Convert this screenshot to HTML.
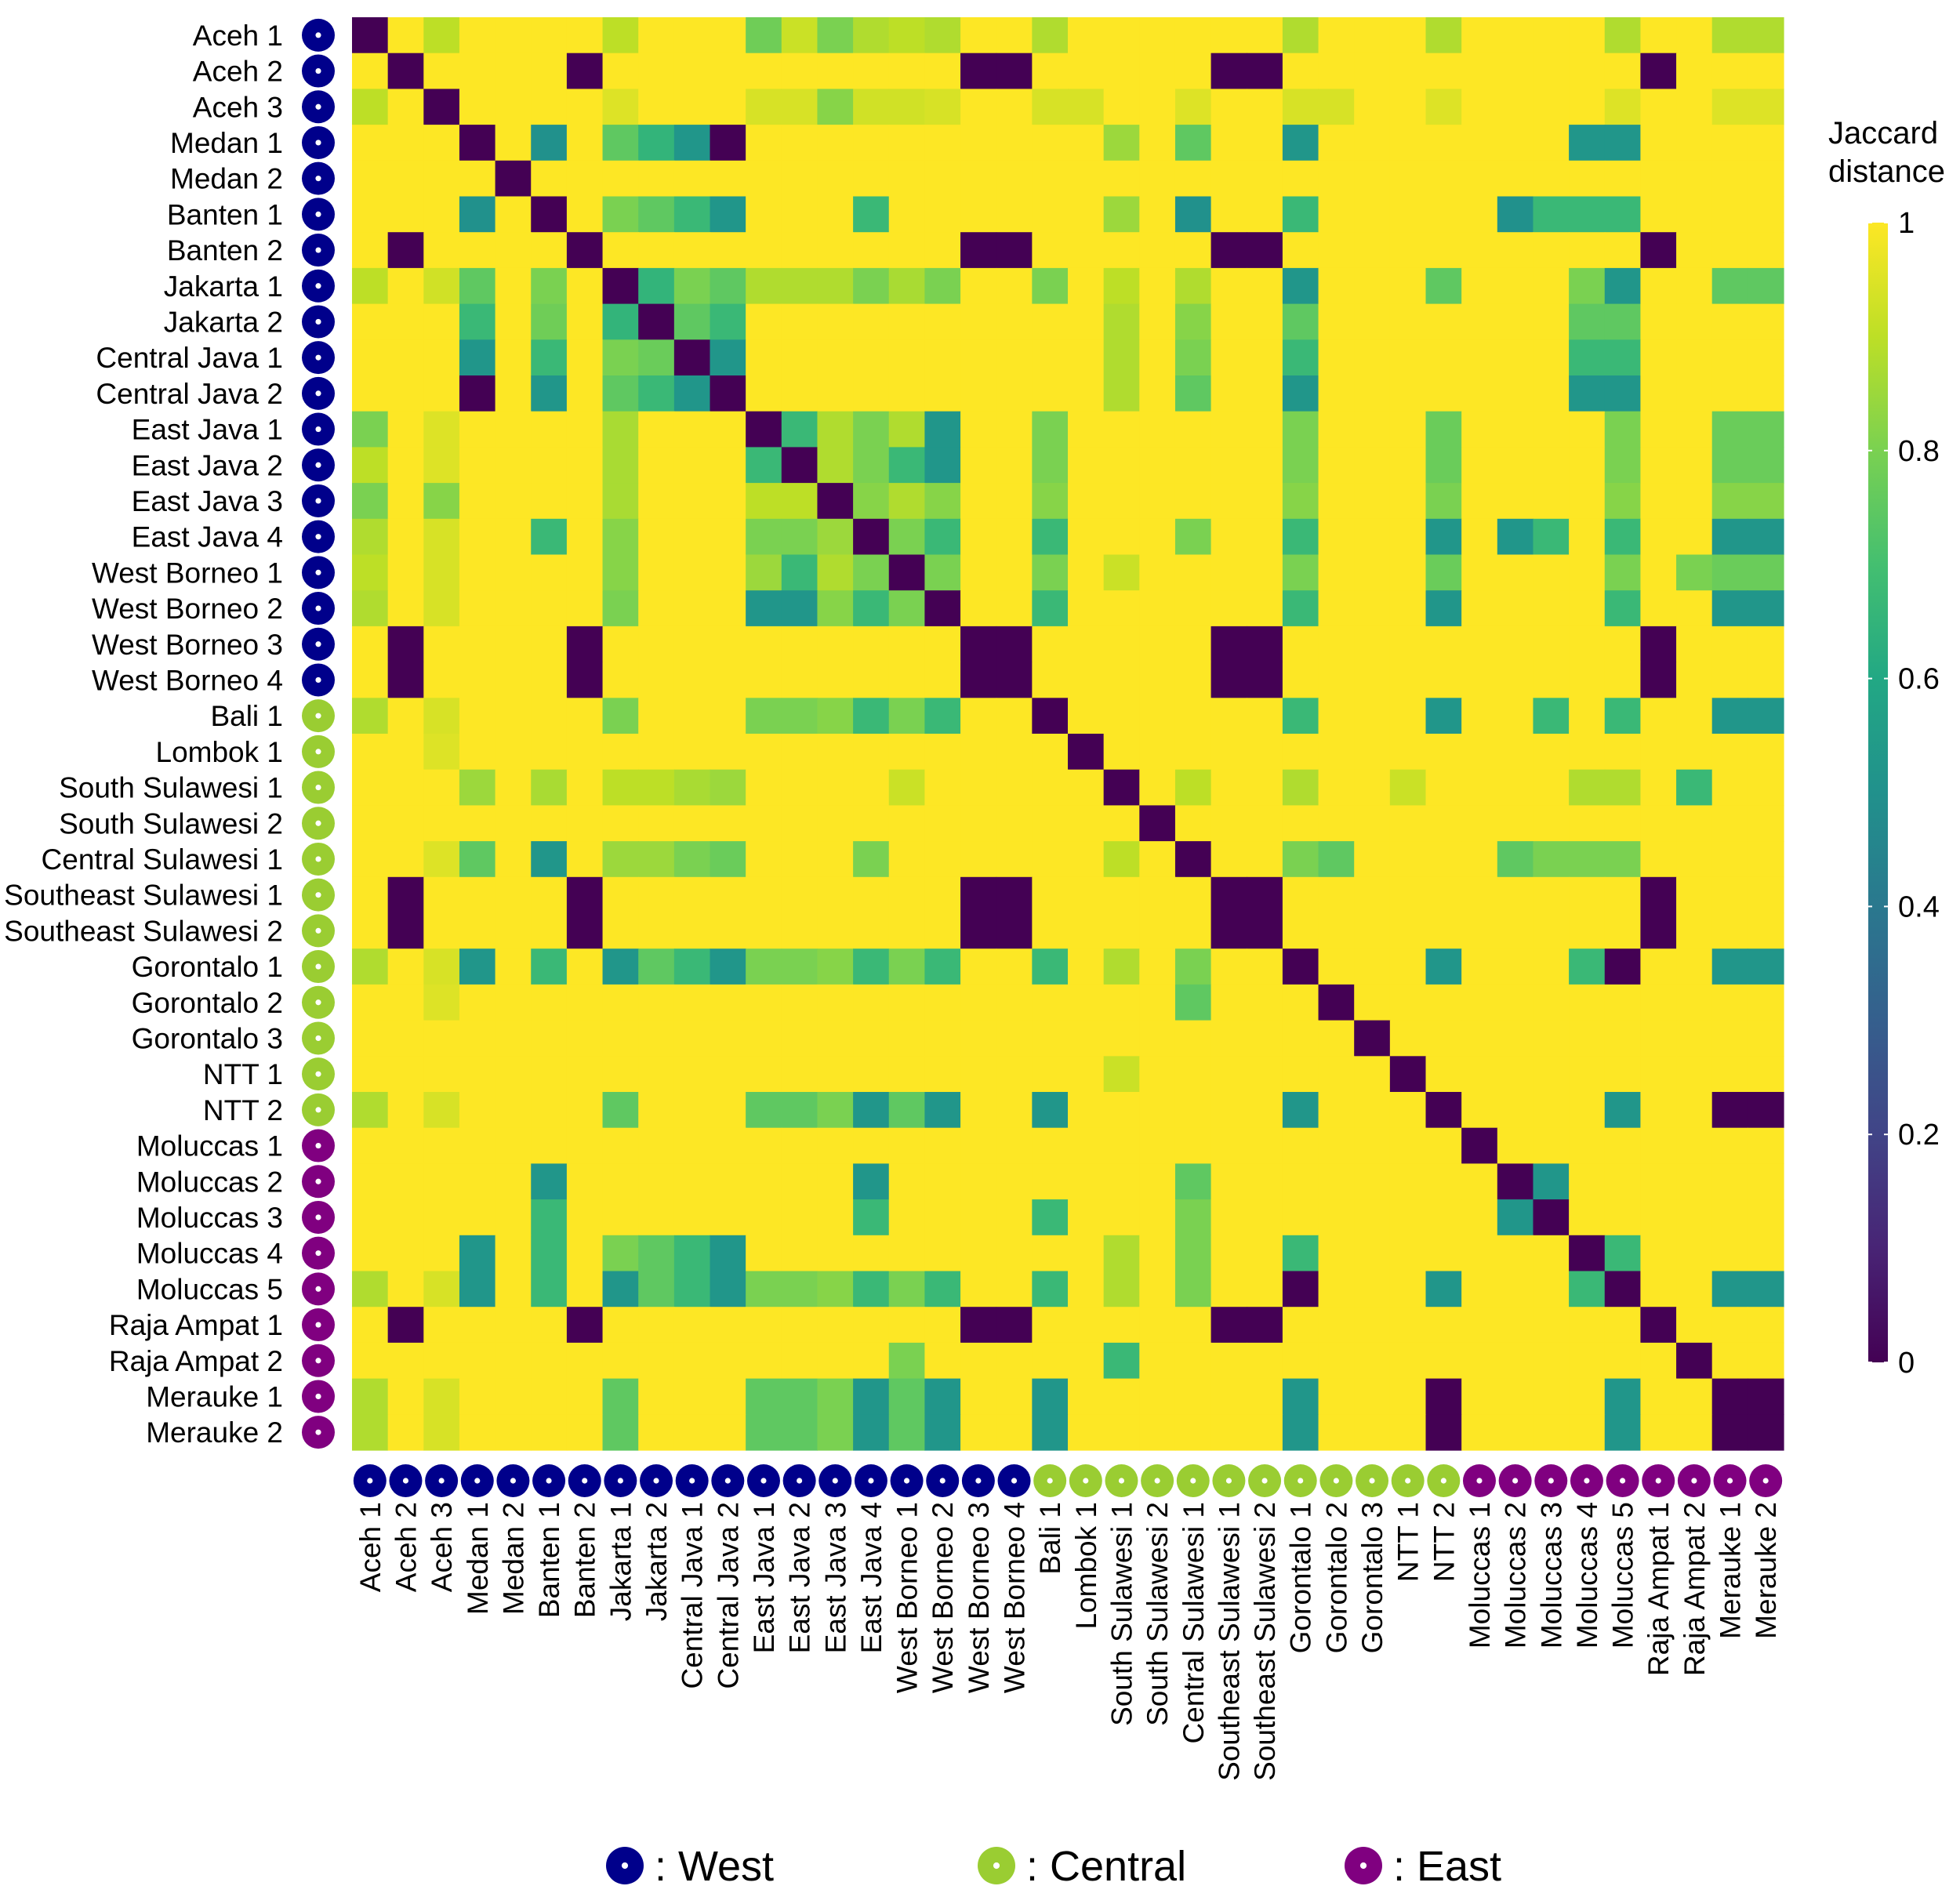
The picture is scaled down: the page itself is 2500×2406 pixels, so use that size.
<!DOCTYPE html>
<html><head><meta charset="utf-8"><style>
html,body{margin:0;padding:0;background:#fff;}
svg{display:block;font-family:"Liberation Sans",Arial,sans-serif;}
</style></head><body>
<svg id="chart" width="2500" height="2406" viewBox="0 0 2500 2406" xmlns="http://www.w3.org/2000/svg">
<g id="cells"></g>
<g id="rowlabels"></g>
<g id="collabels"></g>
<g id="colorbar"></g>
<g id="legend"></g>
</svg>
<script>
const sites = ["Aceh 1","Aceh 2","Aceh 3","Medan 1","Medan 2","Banten 1","Banten 2","Jakarta 1","Jakarta 2","Central Java 1","Central Java 2","East Java 1","East Java 2","East Java 3","East Java 4","West Borneo 1","West Borneo 2","West Borneo 3","West Borneo 4","Bali 1","Lombok 1","South Sulawesi 1","South Sulawesi 2","Central Sulawesi 1","Southeast Sulawesi 1","Southeast Sulawesi 2","Gorontalo 1","Gorontalo 2","Gorontalo 3","NTT 1","NTT 2","Moluccas 1","Moluccas 2","Moluccas 3","Moluccas 4","Moluccas 5","Raja Ampat 1","Raja Ampat 2","Merauke 1","Merauke 2"];
const regions = ["W","W","W","W","W","W","W","W","W","W","W","W","W","W","W","W","W","W","W","C","C","C","C","C","C","C","C","C","C","C","C","E","E","E","E","E","E","E","E","E"];
const baseValue = 1;
// [row, col, distance] for every cell differing from baseValue
const cellValues = [
[0,0,0],[0,2,0.9],[0,7,0.9],[0,11,0.78],[0,12,0.92],[0,13,0.8],[0,14,0.88],[0,15,0.9],[0,16,0.88],[0,19,0.88],[0,26,0.88],[0,30,0.88],[0,35,0.88],[0,38,0.88],[0,39,0.88],
[1,1,0],[1,6,0],[1,17,0],[1,18,0],[1,24,0],[1,25,0],[1,36,0],
[2,0,0.9],[2,2,0],[2,7,0.95],[2,11,0.94],[2,12,0.94],[2,13,0.82],[2,14,0.93],[2,15,0.93],[2,16,0.94],[2,19,0.94],[2,20,0.94],[2,23,0.95],[2,26,0.94],[2,27,0.94],[2,30,0.95],[2,35,0.95],[2,38,0.95],[2,39,0.95],
[3,3,0],[3,5,0.5],[3,7,0.75],[3,8,0.65],[3,9,0.52],[3,10,0],[3,21,0.85],[3,23,0.75],[3,26,0.52],[3,34,0.52],[3,35,0.52],
[4,4,0],
[5,3,0.5],[5,5,0],[5,7,0.8],[5,8,0.75],[5,9,0.67],[5,10,0.52],[5,14,0.67],[5,21,0.85],[5,23,0.5],[5,26,0.67],[5,32,0.5],[5,33,0.67],[5,34,0.67],[5,35,0.67],
[6,1,0],[6,6,0],[6,17,0],[6,18,0],[6,24,0],[6,25,0],[6,36,0],
[7,0,0.9],[7,2,0.93],[7,3,0.75],[7,5,0.8],[7,7,0],[7,8,0.65],[7,9,0.8],[7,10,0.75],[7,11,0.88],[7,12,0.88],[7,13,0.88],[7,14,0.8],[7,15,0.87],[7,16,0.8],[7,19,0.8],[7,21,0.9],[7,23,0.88],[7,26,0.52],[7,30,0.75],[7,34,0.8],[7,35,0.52],[7,38,0.75],[7,39,0.75],
[8,3,0.67],[8,5,0.78],[8,7,0.65],[8,8,0],[8,9,0.75],[8,10,0.67],[8,21,0.88],[8,23,0.82],[8,26,0.75],[8,34,0.75],[8,35,0.75],
[9,3,0.52],[9,5,0.67],[9,7,0.8],[9,8,0.77],[9,9,0],[9,10,0.52],[9,21,0.88],[9,23,0.8],[9,26,0.67],[9,34,0.67],[9,35,0.67],
[10,3,0],[10,5,0.52],[10,7,0.75],[10,8,0.67],[10,9,0.52],[10,10,0],[10,21,0.88],[10,23,0.75],[10,26,0.52],[10,34,0.52],[10,35,0.52],
[11,0,0.8],[11,2,0.95],[11,7,0.87],[11,11,0],[11,12,0.67],[11,13,0.88],[11,14,0.8],[11,15,0.88],[11,16,0.52],[11,19,0.8],[11,26,0.8],[11,30,0.77],[11,35,0.8],[11,38,0.77],[11,39,0.77],
[12,0,0.9],[12,2,0.95],[12,7,0.87],[12,11,0.67],[12,12,0],[12,13,0.88],[12,14,0.8],[12,15,0.67],[12,16,0.52],[12,19,0.8],[12,26,0.8],[12,30,0.77],[12,35,0.8],[12,38,0.77],[12,39,0.77],
[13,0,0.8],[13,2,0.82],[13,7,0.87],[13,11,0.9],[13,12,0.9],[13,13,0],[13,14,0.82],[13,15,0.88],[13,16,0.82],[13,19,0.82],[13,26,0.82],[13,30,0.8],[13,35,0.82],[13,38,0.82],[13,39,0.82],
[14,0,0.88],[14,2,0.94],[14,5,0.67],[14,7,0.82],[14,11,0.8],[14,12,0.8],[14,13,0.85],[14,14,0],[14,15,0.8],[14,16,0.67],[14,19,0.67],[14,23,0.8],[14,26,0.67],[14,30,0.52],[14,32,0.52],[14,33,0.67],[14,35,0.67],[14,38,0.52],[14,39,0.52],
[15,0,0.9],[15,2,0.94],[15,7,0.82],[15,11,0.85],[15,12,0.67],[15,13,0.88],[15,14,0.8],[15,15,0],[15,16,0.8],[15,19,0.8],[15,21,0.92],[15,26,0.8],[15,30,0.77],[15,35,0.8],[15,37,0.8],[15,38,0.77],[15,39,0.77],
[16,0,0.88],[16,2,0.94],[16,7,0.8],[16,11,0.52],[16,12,0.52],[16,13,0.82],[16,14,0.67],[16,15,0.8],[16,16,0],[16,19,0.67],[16,26,0.67],[16,30,0.52],[16,35,0.67],[16,38,0.52],[16,39,0.52],
[17,1,0],[17,6,0],[17,17,0],[17,18,0],[17,24,0],[17,25,0],[17,36,0],
[18,1,0],[18,6,0],[18,17,0],[18,18,0],[18,24,0],[18,25,0],[18,36,0],
[19,0,0.88],[19,2,0.94],[19,7,0.8],[19,11,0.8],[19,12,0.8],[19,13,0.82],[19,14,0.67],[19,15,0.8],[19,16,0.67],[19,19,0],[19,26,0.67],[19,30,0.52],[19,33,0.67],[19,35,0.67],[19,38,0.52],[19,39,0.52],
[20,2,0.95],[20,20,0],
[21,3,0.85],[21,5,0.87],[21,7,0.9],[21,8,0.9],[21,9,0.87],[21,10,0.85],[21,15,0.92],[21,21,0],[21,23,0.9],[21,26,0.88],[21,29,0.92],[21,34,0.88],[21,35,0.88],[21,37,0.67],
[22,22,0],
[23,2,0.95],[23,3,0.75],[23,5,0.52],[23,7,0.85],[23,8,0.85],[23,9,0.8],[23,10,0.77],[23,14,0.8],[23,21,0.9],[23,23,0],[23,26,0.8],[23,27,0.75],[23,32,0.75],[23,33,0.8],[23,34,0.8],[23,35,0.8],
[24,1,0],[24,6,0],[24,17,0],[24,18,0],[24,24,0],[24,25,0],[24,36,0],
[25,1,0],[25,6,0],[25,17,0],[25,18,0],[25,24,0],[25,25,0],[25,36,0],
[26,0,0.88],[26,2,0.94],[26,3,0.52],[26,5,0.67],[26,7,0.52],[26,8,0.75],[26,9,0.67],[26,10,0.52],[26,11,0.8],[26,12,0.8],[26,13,0.82],[26,14,0.67],[26,15,0.8],[26,16,0.67],[26,19,0.67],[26,21,0.88],[26,23,0.8],[26,26,0],[26,30,0.52],[26,34,0.67],[26,35,0],[26,38,0.52],[26,39,0.52],
[27,2,0.95],[27,23,0.75],[27,27,0],
[28,28,0],
[29,21,0.92],[29,29,0],
[30,0,0.88],[30,2,0.94],[30,7,0.75],[30,11,0.75],[30,12,0.75],[30,13,0.8],[30,14,0.52],[30,15,0.75],[30,16,0.52],[30,19,0.52],[30,26,0.52],[30,30,0],[30,35,0.52],[30,38,0],[30,39,0],
[31,31,0],
[32,5,0.52],[32,14,0.52],[32,23,0.75],[32,32,0],[32,33,0.52],
[33,5,0.67],[33,14,0.67],[33,19,0.67],[33,23,0.8],[33,32,0.52],[33,33,0],
[34,3,0.52],[34,5,0.67],[34,7,0.8],[34,8,0.75],[34,9,0.67],[34,10,0.52],[34,21,0.88],[34,23,0.8],[34,26,0.67],[34,34,0],[34,35,0.67],
[35,0,0.88],[35,2,0.94],[35,3,0.52],[35,5,0.67],[35,7,0.52],[35,8,0.75],[35,9,0.67],[35,10,0.52],[35,11,0.8],[35,12,0.8],[35,13,0.82],[35,14,0.67],[35,15,0.8],[35,16,0.67],[35,19,0.67],[35,21,0.88],[35,23,0.8],[35,26,0],[35,30,0.52],[35,34,0.67],[35,35,0],[35,38,0.52],[35,39,0.52],
[36,1,0],[36,6,0],[36,17,0],[36,18,0],[36,24,0],[36,25,0],[36,36,0],
[37,15,0.8],[37,21,0.67],[37,37,0],
[38,0,0.88],[38,2,0.94],[38,7,0.75],[38,11,0.75],[38,12,0.75],[38,13,0.8],[38,14,0.52],[38,15,0.75],[38,16,0.52],[38,19,0.52],[38,26,0.52],[38,30,0],[38,35,0.52],[38,38,0],[38,39,0],
[39,0,0.88],[39,2,0.94],[39,7,0.75],[39,11,0.75],[39,12,0.75],[39,13,0.8],[39,14,0.52],[39,15,0.75],[39,16,0.52],[39,19,0.52],[39,26,0.52],[39,30,0],[39,35,0.52],[39,38,0],[39,39,0]
];
const colorbarTicks = [0, 0.2, 0.4, 0.6, 0.8, 1];
const colorbarTickLabels = ["0", "0.2", "0.4", "0.6", "0.8", "1"];
const legendKeys = ["W", "C", "E"];
const legendLabels = [": West", ": Central", ": East"];

const NS = "http://www.w3.org/2000/svg";
const viridis = ["#440154","#482475","#414487","#355f8d","#2a788e","#21918c","#22a884","#44bf70","#7ad151","#bddf26","#fde725"];
const regionColor = {W:"#00008b", C:"#9acd32", E:"#800080"};
function hex2rgb(h){return [1,3,5].map(i=>parseInt(h.substr(i,2),16));}
function colorOf(v){
  v=Math.max(0,Math.min(1,v)); const p=v*10; const i=Math.min(9,Math.floor(p)); const f=p-i;
  const a=hex2rgb(viridis[i]), b=hex2rgb(viridis[i+1]);
  return "rgb("+a.map((x,k)=>Math.round(x+(b[k]-x)*f)).join(",")+")";
}
const X0=449, Y0=22, X1=2275, Y1=1850, N=sites.length;
const cw=(X1-X0)/N, ch=(Y1-Y0)/N;
const xScale = c => X0 + c*cw;
const yScale = r => Y0 + r*ch;
function mk(tag, attrs, parent){const e=document.createElementNS(NS,tag);for(const k in attrs)e.setAttribute(k,attrs[k]);parent.appendChild(e);return e;}

const matrix = sites.map(()=>sites.map(()=>baseValue));
cellValues.forEach(([r,c,v])=>{matrix[r][c]=v;});
const gCells=document.getElementById("cells");
for(let r=0;r<N;r++)for(let c=0;c<N;c++){
  const rect=mk("rect",{x:xScale(c).toFixed(2),y:yScale(r).toFixed(2),width:(cw+0.6).toFixed(2),height:(ch+0.6).toFixed(2),fill:colorOf(matrix[r][c])},gCells);
  
  
}
function marker(cx,cy,rad,reg,parent,name){
  const g=mk("g",{},parent);
  
  
  mk("circle",{cx:cx,cy:cy,r:rad,fill:regionColor[reg]},g);
  mk("circle",{cx:cx,cy:cy,r:rad*0.17,fill:"#fff"},g);
}
const gRow=document.getElementById("rowlabels");
const gCol=document.getElementById("collabels");
sites.forEach((s,i)=>{
  const cy=yScale(i)+ch/2;
  const t=mk("text",{x:361,y:cy+13,"text-anchor":"end","font-size":37,fill:"#000"},gRow);
  t.textContent=s;
  
  
  marker(406,cy,21,regions[i],gRow,'row-region-marker');
  const cx=xScale(i)+cw/2;
  marker(cx,1889,21,regions[i],gCol,'column-region-marker');
  const ct=mk("text",{x:0,y:0,"text-anchor":"end","font-size":37,fill:"#000",transform:"translate("+(cx+13)+",1916) rotate(-90)"},gCol);
  ct.textContent=s;
  
  
});
// colorbar
const gCb=document.getElementById("colorbar");
const CB_X=2383, CB_W=25, CB_TOP=284, CB_BOT=1738;
const cbY = v => CB_BOT - v*(CB_BOT-CB_TOP);
const defs=mk("defs",{},gCb);
const lg=mk("linearGradient",{id:"vg",x1:0,y1:1,x2:0,y2:0},defs);
viridis.forEach((c,i)=>mk("stop",{offset:(i*10)+"%","stop-color":c},lg));
const bar=mk("rect",{x:CB_X,y:CB_TOP,width:CB_W,height:CB_BOT-CB_TOP,fill:"url(#vg)"},gCb);


colorbarTicks.forEach((v,i)=>{
  mk("line",{x1:CB_X,x2:CB_X+5,y1:cbY(v),y2:cbY(v),stroke:"#fff","stroke-width":2},gCb);
  mk("line",{x1:CB_X+CB_W-5,x2:CB_X+CB_W,y1:cbY(v),y2:cbY(v),stroke:"#fff","stroke-width":2},gCb);
  const t=mk("text",{x:2421,y:cbY(v)+13,"font-size":38,fill:"#000"},gCb);
  t.textContent=colorbarTickLabels[i];
  
  
});
const t1=mk("text",{x:2332,y:183,"font-size":40,fill:"#000"},gCb);t1.textContent="Jaccard";


const t2=mk("text",{x:2332,y:232,"font-size":40,fill:"#000"},gCb);t2.textContent="distance";


// legend
const gLeg=document.getElementById("legend");
const legX=[797,1271,1739];
legendKeys.forEach((k,i)=>{
  marker(legX[i],2380,24,k,gLeg,'legend-marker-'+k);
  const t=mk("text",{x:legX[i]+38,y:2399,"font-size":54,fill:"#000"},gLeg);
  t.textContent=legendLabels[i];
  
  
});
</script>
</body></html>
